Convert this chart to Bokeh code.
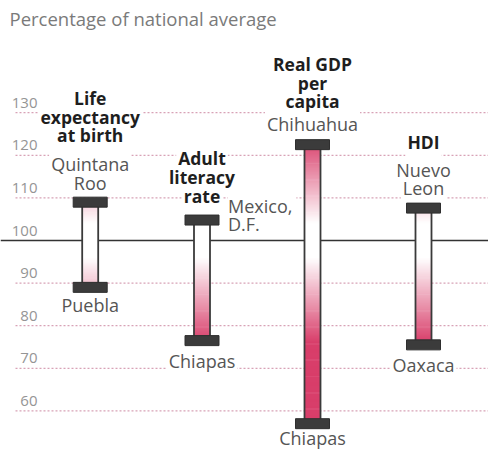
from bokeh.plotting import figure
from bokeh.models import Range1d
from bokeh.embed import file_html
from bokeh.resources import INLINE
from bokeh.core.properties import value

# ---------------- data ----------------
indicators = ["Life expectancy at birth", "Adult literacy rate", "Real GDP per capita", "HDI"]
high_values = [109.0, 104.8, 122.5, 107.6]
low_values = [89.0, 76.5, 57.0, 75.5]
high_states = ["Quintana Roo", "Mexico, D.F.", "Chihuahua", "Nuevo Leon"]
low_states = ["Puebla", "Chiapas", "Chiapas", "Oaxaca"]
tick_values = [60, 70, 80, 90, 100, 110, 120, 130]
tick_labels = ["60", "70", "80", "90", "100", "110", "120", "130"]
title_text = "Percentage of national average"

# ---------------- layout ----------------
bar_x = [89.7, 201.5, 312.0, 423.0]       # horizontal positions (screen px)
PX_PER_UNIT = 4.26
BASE_Y = 240.0                             # screen y of the 100 line


def val(sy):
    return 100 + (BASE_Y - sy) / PX_PER_UNIT


FONT = value("Open Sans")
W, H = 488, 449
p = figure(width=W, height=H, output_backend="svg", toolbar_location=None,
           x_range=Range1d(0, W), y_range=Range1d(val(H), val(0)),
           min_border=0, border_fill_color="white", background_fill_color="white")
p.axis.visible = False
p.grid.visible = False
p.outline_line_color = None

# dotted gridlines
grid_vals = [t for t in tick_values if t != 100]
p.segment(x0=[15] * len(grid_vals), x1=[488] * len(grid_vals), y0=grid_vals, y1=grid_vals,
          line_color="#d8a2b6", line_width=1.2, line_dash="2 2")

# tick labels
p.text(x=[37] * len(tick_values), y=tick_values, text=tick_labels, text_align="right",
       text_baseline="middle", y_offset=-10, text_font=FONT, text_font_size="15px",
       text_color="#959595")

# title
p.text(x=[9], y=[val(18)], text=[title_text], text_align="left", text_baseline="middle",
       text_font=FONT, text_font_size="18.5px", text_color="#7a7a7a")

# label lines: (bar index, anchor 'hi'/'lo', text, dx, dy, bold, align)
label_lines = [
    (0, "hi", indicators[0].split()[0], 0, -104, True, "center"),
    (0, "hi", "expectancy", 0, -85, True, "center"),
    (0, "hi", "at birth", 0, -67, True, "center"),
    (0, "hi", high_states[0].split()[0], 0, -38, False, "center"),
    (0, "hi", high_states[0].split()[1], 0, -19, False, "center"),
    (0, "lo", low_states[0], 0, 18, False, "center"),
    (1, "hi", "Adult", 0, -62, True, "center"),
    (1, "hi", "literacy", 0, -43, True, "center"),
    (1, "hi", "rate", 0, -24, True, "center"),
    (1, "hi", "Mexico,", 26, -14, False, "left"),
    (1, "hi", "D.F.", 26, 4, False, "left"),
    (1, "lo", low_states[1], 0, 20, False, "center"),
    (2, "hi", "Real GDP", 0, -81, True, "center"),
    (2, "hi", "per", 0, -62, True, "center"),
    (2, "hi", "capita", 0, -44, True, "center"),
    (2, "hi", high_states[2], 0, -21, False, "center"),
    (2, "lo", low_states[2], 0, 14, False, "center"),
    (3, "hi", indicators[3], 0, -66, True, "center"),
    (3, "hi", "Nuevo", 0, -38, False, "center"),
    (3, "hi", "Leon", 0, -20, False, "center"),
    (3, "lo", low_states[3], 0, 20, False, "center"),
]


def draw_labels(background):
    for bold in (True, False):
        for align in ("center", "left"):
            sel = [l for l in label_lines if l[5] == bold and l[6] == align]
            if not sel:
                continue
            xs = [bar_x[l[0]] for l in sel]
            ys = [high_values[l[0]] if l[1] == "hi" else low_values[l[0]] for l in sel]
            kw = dict(x=xs, y=ys, text=[l[2] for l in sel],
                      x_offset=[l[3] for l in sel], y_offset=[l[4] for l in sel],
                      text_align=align, text_baseline="middle", text_font=FONT,
                      text_font_size="17.5px" if bold else "18px",
                      text_font_style="bold" if bold else "normal",
                      text_color="#1e1e1e" if bold else "#555555")
            if background:
                kw.update(background_fill_color="white", padding=2, text_alpha=0)
            p.text(**kw)


draw_labels(True)
draw_labels(False)

# 100 reference line
p.segment(x0=[0], x1=[500], y0=[100], y1=[100], line_color="#333333", line_width=1.6)

# bars with white-to-pink gradient (intensity by distance from 100)
pink = (216, 62, 106)
step = 0.25
lefts, rights, bots, tops, cols = [], [], [], [], []
for xc, lo, hi in zip(bar_x, low_values, high_values):
    v = lo
    while v < hi:
        v2 = min(v + step, hi)
        mid = (v + v2) / 2
        t = max(0.0, min(1.0, (abs(mid - 100) - 4) / 20.0))
        c = tuple(int(round(255 + (pc - 255) * t)) for pc in pink)
        lefts.append(xc - 8)
        rights.append(xc + 8)
        bots.append(v)
        tops.append(min(v2 + 0.15, hi))
        cols.append("#%02x%02x%02x" % c)
        v = v2
p.quad(left=lefts, right=rights, bottom=bots, top=tops, fill_color=cols, line_color=None)
p.quad(left=[x - 8 for x in bar_x], right=[x + 8 for x in bar_x], bottom=low_values,
       top=high_values, fill_color=None, line_color="#3a3a3a", line_width=1.8)

# caps
for vals in (high_values, low_values):
    p.rect(x=bar_x, y=vals, width=34, height=10, width_units="screen", height_units="screen",
           fill_color="#3b3b3b", line_color="#2e2e2e", line_width=1)

open("out.html", "w").write(file_html(p, INLINE))
